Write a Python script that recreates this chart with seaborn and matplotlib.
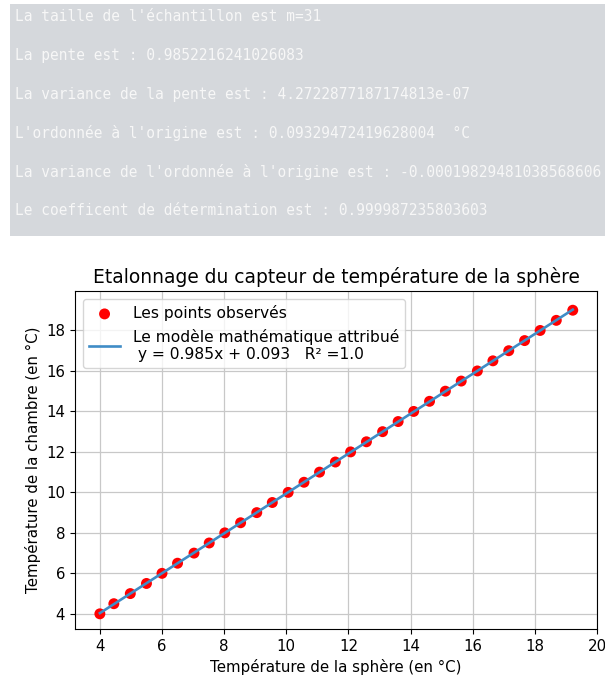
"""
Etalonnage du capteur de température de la sphère : sortie console + graphique.
"""
import matplotlib
matplotlib.use("Agg")
import matplotlib.pyplot as plt
from matplotlib.patches import Rectangle
import numpy as np
import pandas as pd
import seaborn as sns

# ── Données ───────────────────────────────────────────────────────────────────
temp_sphere = [4.00, 4.45, 4.98, 5.50, 6.00, 6.50, 7.03, 7.52, 8.02, 8.53,
               9.05, 9.55, 10.06, 10.57, 11.07, 11.58, 12.07, 12.58, 13.10, 13.60,
               14.10, 14.61, 15.12, 15.63, 16.15, 16.65, 17.16, 17.67, 18.17, 18.69,
               19.22]
temp_chambre = [4.0, 4.5, 5.0, 5.5, 6.0, 6.5, 7.0, 7.5, 8.0, 8.5,
                9.0, 9.5, 10.0, 10.5, 11.0, 11.5, 12.0, 12.5, 13.0, 13.5,
                14.0, 14.5, 15.0, 15.5, 16.0, 16.5, 17.0, 17.5, 18.0, 18.5,
                19.0]

pente = 0.9852216241026083
ordonnee = 0.09329472419628004
r2 = 0.999987235803603

console_lines = [
    "La taille de l'échantillon est m=31",
    "La pente est : 0.9852216241026083",
    "La variance de la pente est : 4.2722877187174813e-07",
    "L'ordonnée à l'origine est : 0.09329472419628004  °C",
    "La variance de l'ordonnée à l'origine est : -0.00019829481038568606",
    "Le coefficent de détermination est : 0.999987235803603",
]

x_ticks = [4, 6, 8, 10, 12, 14, 16, 18, 20]
y_ticks = [4, 6, 8, 10, 12, 14, 16, 18]

# ── Style ─────────────────────────────────────────────────────────────────────
plt.rcParams.update({
    "font.family": "DejaVu Sans",
    "font.size": 10.8,
})

W, H = 605, 682
fig = plt.figure(figsize=(W / 100, H / 100), dpi=100)

# ── Panneau console ──────────────────────────────────────────────────────────
fig.patches.append(Rectangle((10 / W, 1 - 236 / H), 595 / W, 232 / H,
                             transform=fig.transFigure, facecolor="#d5d8dc",
                             edgecolor="none", zorder=0))
for i, line in enumerate(console_lines):
    fig.text(15 / W, 1 - (16.5 + i * 38.8) / H, line, family="DejaVu Sans Mono",
             fontsize=10.45, color="#f7f7f7", va="center", ha="left")

# ── Graphique ─────────────────────────────────────────────────────────────────
ax = fig.add_axes([75 / W, 1 - 629 / H, 522 / W, 338 / H])

df = pd.DataFrame({"x": temp_sphere, "y": temp_chambre})
df["modele"] = pente * df["x"] + ordonnee

sns.scatterplot(data=df, x="x", y="y", color="red", s=62, edgecolor="none",
                label="Les points observés", ax=ax, zorder=3)
sns.lineplot(data=df, x="x", y="modele", color="#3f8cc6", linewidth=1.9,
             label=f"Le modèle mathématique attribué\n y = {pente:.3f}x + {ordonnee:.3f}   R² ={round(r2, 1)}",
             ax=ax, zorder=4)

ax.set_xlim(3.2, 20.0)
ax.set_ylim(3.25, 19.95)
ax.set_xticks(x_ticks)
ax.set_yticks(y_ticks)
ax.grid(True, color="#c8c8c8", linewidth=0.9)
ax.set_axisbelow(True)
ax.set_title("Etalonnage du capteur de température de la sphère", fontsize=13.4)
ax.set_xlabel("Température de la sphère (en °C)")
ax.set_ylabel("Température de la chambre (en °C)")
ax.legend(loc="upper left", fontsize=11.2)

fig.savefig("out.png", dpi=100)
